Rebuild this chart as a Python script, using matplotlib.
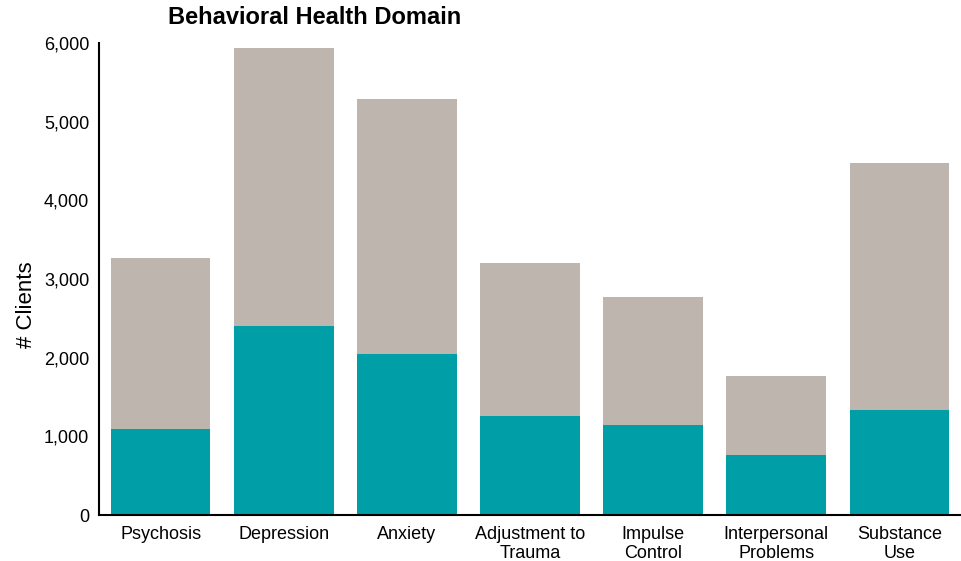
import matplotlib.pyplot as plt
from matplotlib.ticker import FuncFormatter

plt.rcParams['font.family'] = ['Liberation Sans', 'DejaVu Sans']

categories = ['Psychosis', 'Depression', 'Anxiety', 'Adjustment to\nTrauma',
              'Impulse\nControl', 'Interpersonal\nProblems', 'Substance\nUse']
teal_values = [1090, 2400, 2050, 1255, 1145, 760, 1335]
total_values = [3265, 5935, 5285, 3200, 2770, 1765, 4470]
grey_values = [t - b for t, b in zip(total_values, teal_values)]

fig = plt.figure(figsize=(9.61, 5.61), dpi=100)
ax = fig.add_axes([99 / 961, 46 / 561, 862 / 961, 472 / 561])

x = range(len(categories))
ax.bar(x, teal_values, width=0.81, color='#009EA6')
ax.bar(x, grey_values, bottom=teal_values, width=0.81, color='#BEB5AF')

ax.set_xlim(-0.5, 6.5)
ax.set_ylim(0, 6000)
ax.set_yticks(range(0, 6001, 1000))
ax.yaxis.set_major_formatter(FuncFormatter(lambda v, p: f'{int(v):,}'))
ax.set_xticks(list(x))
ax.set_xticklabels(categories, fontsize=13, linespacing=1.15)
ax.tick_params(axis='y', labelsize=13, length=0, pad=7)
ax.tick_params(axis='x', length=0, pad=8)

for side in ['top', 'right']:
    ax.spines[side].set_visible(False)
for side in ['left', 'bottom']:
    ax.spines[side].set_linewidth(1.5)

fig.text(27 / 961, 1 - 305 / 561, '# Clients', rotation=90, ha='center',
         va='center', fontsize=16)
fig.text(315 / 961, 1 - 17 / 561, 'Behavioral Health Domain', ha='center',
         va='center', fontsize=17, fontweight='bold')

fig.savefig('out.png', dpi=100)
